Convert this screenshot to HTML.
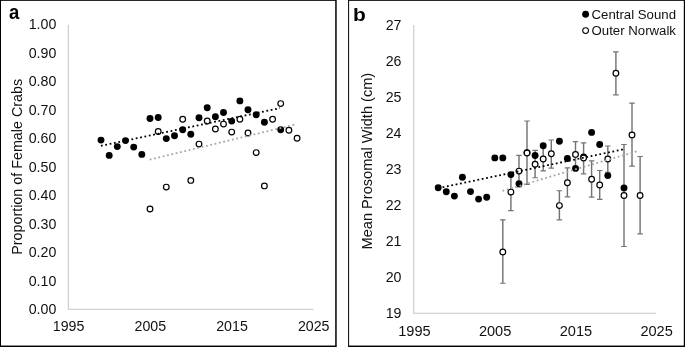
<!DOCTYPE html>
<html lang="en">
<head>
<meta charset="utf-8">
<title>Female crab proportion and prosomal width</title>
<style>
html,body{margin:0;padding:0;background:#fff;}
body{width:685px;height:347px;overflow:hidden;}
svg{display:block;}
text{font-family:"Liberation Sans", Arial, Helvetica, sans-serif;fill:#111;}
.tick-a{font-size:14.2px;}
.tick-b{font-size:14.2px;}
.ttl-a{font-size:14.33px;}
.ttl-b{font-size:14.58px;}
.lab{font-weight:bold;font-size:20.3px;fill:#000;}
.leg{font-size:13.23px;}
.f{fill:#000;}
.o{fill:#fff;stroke:#000;stroke-width:1.2;}
.e{stroke:#747474;stroke-width:1.45;fill:none;}
.c{stroke:#747474;stroke-width:1.15;fill:none;}
.ax{stroke:#c6c6c6;stroke-width:1.05;fill:none;}
.tb{stroke:#000;stroke-width:1.8;stroke-dasharray:1.8 2.65;fill:none;}
.tg{stroke:#a6a6a6;stroke-width:1.8;stroke-dasharray:1.8 2.65;fill:none;}
.frame{fill:#fff;stroke:#000;stroke-width:1.5;}
</style>
</head>
<body>
<svg width="685" height="347" viewBox="0 0 685 347">
<rect x="0" y="0" width="685" height="347" fill="#fff"/>
<rect x="0" y="0" width="336.7" height="347" fill="#000"/>
<rect x="1" y="0.85" width="334.2" height="344.7" fill="#fff"/>
<rect x="348.1" y="0" width="336.9" height="347" fill="#000"/>
<rect x="349.1" y="0.85" width="334.7" height="344.7" fill="#fff"/>
<g id="panel-a">
<path class="ax" d="M68.3 24.7V309.2H313.5"/>
<text class="tick-a" x="56.3" y="314.2" text-anchor="end">0.00</text>
<text class="tick-a" x="56.3" y="285.7" text-anchor="end">0.10</text>
<text class="tick-a" x="56.3" y="257.3" text-anchor="end">0.20</text>
<text class="tick-a" x="56.3" y="228.8" text-anchor="end">0.30</text>
<text class="tick-a" x="56.3" y="200.4" text-anchor="end">0.40</text>
<text class="tick-a" x="56.3" y="171.9" text-anchor="end">0.50</text>
<text class="tick-a" x="56.3" y="143.4" text-anchor="end">0.60</text>
<text class="tick-a" x="56.3" y="114.5" text-anchor="end">0.70</text>
<text class="tick-a" x="56.3" y="86.0" text-anchor="end">0.80</text>
<text class="tick-a" x="56.3" y="58.1" text-anchor="end">0.90</text>
<text class="tick-a" x="56.3" y="28.8" text-anchor="end">1.00</text>
<text class="tick-a" x="68.6" y="331.0" text-anchor="middle">1995</text>
<text class="tick-a" x="150.3" y="331.0" text-anchor="middle">2005</text>
<text class="tick-a" x="232.0" y="331.0" text-anchor="middle">2015</text>
<text class="tick-a" x="313.7" y="331.0" text-anchor="middle">2025</text>
<text class="ttl-a" transform="translate(22.3 166.8) rotate(-90)" text-anchor="middle">Proportion of Female Crabs</text>
<text class="lab" transform="translate(8.9 19) scale(0.93 1)" style="font-size:19.9px">a</text>
<circle class="f" cx="101.0" cy="140.1" r="3.45"/>
<circle class="f" cx="109.2" cy="155.4" r="3.45"/>
<circle class="f" cx="117.3" cy="146.6" r="3.45"/>
<circle class="f" cx="125.5" cy="140.6" r="3.45"/>
<circle class="f" cx="133.7" cy="147.1" r="3.45"/>
<circle class="f" cx="141.8" cy="154.4" r="3.45"/>
<circle class="f" cx="150.0" cy="118.5" r="3.45"/>
<circle class="f" cx="158.2" cy="117.5" r="3.45"/>
<circle class="f" cx="166.3" cy="138.6" r="3.45"/>
<circle class="f" cx="174.5" cy="135.8" r="3.45"/>
<circle class="f" cx="182.7" cy="129.8" r="3.45"/>
<circle class="f" cx="190.8" cy="134.3" r="3.45"/>
<circle class="f" cx="199.0" cy="117.7" r="3.45"/>
<circle class="f" cx="207.2" cy="107.8" r="3.45"/>
<circle class="f" cx="215.4" cy="116.7" r="3.45"/>
<circle class="f" cx="223.5" cy="112.5" r="3.45"/>
<circle class="f" cx="231.7" cy="121.1" r="3.45"/>
<circle class="f" cx="239.9" cy="100.9" r="3.45"/>
<circle class="f" cx="248.0" cy="109.7" r="3.45"/>
<circle class="f" cx="256.2" cy="114.7" r="3.45"/>
<circle class="f" cx="264.4" cy="122.3" r="3.45"/>
<circle class="f" cx="280.7" cy="129.8" r="3.45"/>
<circle class="o" cx="150.0" cy="209.0" r="2.85"/>
<circle class="o" cx="158.2" cy="131.5" r="2.85"/>
<circle class="o" cx="166.3" cy="187.1" r="2.85"/>
<circle class="o" cx="182.7" cy="119.3" r="2.85"/>
<circle class="o" cx="190.8" cy="180.4" r="2.85"/>
<circle class="o" cx="199.0" cy="144.1" r="2.85"/>
<circle class="o" cx="207.2" cy="121.0" r="2.85"/>
<circle class="o" cx="215.4" cy="129.0" r="2.85"/>
<circle class="o" cx="223.5" cy="124.1" r="2.85"/>
<circle class="o" cx="231.7" cy="132.1" r="2.85"/>
<circle class="o" cx="239.9" cy="119.2" r="2.85"/>
<circle class="o" cx="248.0" cy="133.0" r="2.85"/>
<circle class="o" cx="256.2" cy="152.6" r="2.85"/>
<circle class="o" cx="264.4" cy="185.9" r="2.85"/>
<circle class="o" cx="272.6" cy="119.2" r="2.85"/>
<circle class="o" cx="280.7" cy="103.6" r="2.85"/>
<circle class="o" cx="288.9" cy="130.3" r="2.85"/>
<circle class="o" cx="297.1" cy="138.3" r="2.85"/>
<line class="tg" x1="149.7" y1="159.6" x2="294.4" y2="124.7"/>
<line class="tb" x1="100.9" y1="145.8" x2="280.0" y2="108.1"/>
</g>
<g id="panel-b">
<path class="ax" d="M413.75 25.0V313.3H656.2"/>
<text class="tick-b" x="401.5" y="318.4" text-anchor="end">19</text>
<text class="tick-b" x="401.5" y="282.4" text-anchor="end">20</text>
<text class="tick-b" x="401.5" y="246.3" text-anchor="end">21</text>
<text class="tick-b" x="401.5" y="210.3" text-anchor="end">22</text>
<text class="tick-b" x="401.5" y="174.2" text-anchor="end">23</text>
<text class="tick-b" x="401.5" y="138.2" text-anchor="end">24</text>
<text class="tick-b" x="401.5" y="102.2" text-anchor="end">25</text>
<text class="tick-b" x="401.5" y="66.1" text-anchor="end">26</text>
<text class="tick-b" x="401.5" y="30.1" text-anchor="end">27</text>
<text class="ttl-b" x="414.4" y="335.6" text-anchor="middle">1995</text>
<text class="ttl-b" x="495.1" y="335.6" text-anchor="middle">2005</text>
<text class="ttl-b" x="575.9" y="335.6" text-anchor="middle">2015</text>
<text class="ttl-b" x="656.6" y="335.6" text-anchor="middle">2025</text>
<text class="ttl-b" transform="translate(371.9 161.1) rotate(-90)" text-anchor="middle">Mean Prosomal Width (cm)</text>
<text class="lab" transform="translate(353.1 20.8) scale(1.12 1)" style="font-size:18.7px">b</text>
<path class="e" d="M502.8 219.8V283.2"/><path class="c" d="M500.1 219.8H505.6M500.1 283.2H505.6"/>
<path class="e" d="M510.9 174.2V210.6"/><path class="c" d="M508.1 174.2H513.6M508.1 210.6H513.6"/>
<path class="e" d="M519.0 155.3V186.8"/><path class="c" d="M516.2 155.3H521.7M516.2 186.8H521.7"/>
<path class="e" d="M527.0 121.0V184.4"/><path class="c" d="M524.3 121.0H529.8M524.3 184.4H529.8"/>
<path class="e" d="M535.1 150.4V177.7"/><path class="c" d="M532.4 150.4H537.9M532.4 177.7H537.9"/>
<path class="e" d="M543.2 147.2V170.8"/><path class="c" d="M540.5 147.2H546.0M540.5 170.8H546.0"/>
<path class="e" d="M551.3 140.0V168.1"/><path class="c" d="M548.5 140.0H554.0M548.5 168.1H554.0"/>
<path class="e" d="M559.4 190.7V219.8"/><path class="c" d="M556.6 190.7H562.1M556.6 219.8H562.1"/>
<path class="e" d="M567.4 167.8V196.8"/><path class="c" d="M564.7 167.8H570.2M564.7 196.8H570.2"/>
<path class="e" d="M575.5 141.6V167.4"/><path class="c" d="M572.8 141.6H578.2M572.8 167.4H578.2"/>
<path class="e" d="M583.6 142.8V173.8"/><path class="c" d="M580.8 142.8H586.3M580.8 173.8H586.3"/>
<path class="e" d="M591.6 160.9V197.1"/><path class="c" d="M588.9 160.9H594.4M588.9 197.1H594.4"/>
<path class="e" d="M599.7 170.5V199.3"/><path class="c" d="M597.0 170.5H602.5M597.0 199.3H602.5"/>
<path class="e" d="M607.8 146.0V172.2"/><path class="c" d="M605.0 146.0H610.5M605.0 172.2H610.5"/>
<path class="e" d="M615.9 51.9V94.8"/><path class="c" d="M613.1 51.9H618.6M613.1 94.8H618.6"/>
<path class="e" d="M624.0 144.5V246.5"/><path class="c" d="M621.2 144.5H626.7M621.2 246.5H626.7"/>
<path class="e" d="M632.0 103.1V166.1"/><path class="c" d="M629.3 103.1H634.8M629.3 166.1H634.8"/>
<path class="e" d="M640.1 156.5V233.9"/><path class="c" d="M637.3 156.5H642.8M637.3 233.9H642.8"/>
<circle class="f" cx="438.2" cy="187.8" r="3.45"/>
<circle class="f" cx="446.3" cy="191.8" r="3.45"/>
<circle class="f" cx="454.4" cy="196.1" r="3.45"/>
<circle class="f" cx="462.4" cy="177.2" r="3.45"/>
<circle class="f" cx="470.5" cy="191.6" r="3.45"/>
<circle class="f" cx="478.6" cy="199.1" r="3.45"/>
<circle class="f" cx="486.7" cy="197.3" r="3.45"/>
<circle class="f" cx="494.8" cy="157.9" r="3.45"/>
<circle class="f" cx="502.8" cy="157.9" r="3.45"/>
<circle class="f" cx="510.9" cy="174.6" r="3.45"/>
<circle class="f" cx="519.0" cy="183.8" r="3.45"/>
<circle class="f" cx="527.0" cy="152.6" r="3.45"/>
<circle class="f" cx="535.1" cy="155.5" r="3.45"/>
<circle class="f" cx="543.2" cy="145.7" r="3.45"/>
<circle class="f" cx="559.4" cy="141.3" r="3.45"/>
<circle class="f" cx="567.4" cy="158.5" r="3.45"/>
<circle class="f" cx="575.5" cy="168.4" r="3.45"/>
<circle class="f" cx="583.6" cy="157.0" r="3.45"/>
<circle class="f" cx="591.6" cy="132.4" r="3.45"/>
<circle class="f" cx="599.7" cy="144.5" r="3.45"/>
<circle class="f" cx="607.8" cy="175.6" r="3.45"/>
<circle class="f" cx="624.0" cy="187.9" r="3.45"/>
<circle class="o" cx="502.8" cy="252.0" r="2.85"/>
<circle class="o" cx="510.9" cy="192.1" r="2.85"/>
<circle class="o" cx="519.0" cy="171.1" r="2.85"/>
<circle class="o" cx="527.0" cy="153.0" r="2.85"/>
<circle class="o" cx="535.1" cy="164.3" r="2.85"/>
<circle class="o" cx="543.2" cy="159.0" r="2.85"/>
<circle class="o" cx="551.3" cy="153.8" r="2.85"/>
<circle class="o" cx="559.4" cy="205.6" r="2.85"/>
<circle class="o" cx="567.4" cy="182.7" r="2.85"/>
<circle class="o" cx="575.5" cy="154.4" r="2.85"/>
<circle class="o" cx="583.6" cy="158.1" r="2.85"/>
<circle class="o" cx="591.6" cy="179.3" r="2.85"/>
<circle class="o" cx="599.7" cy="185.0" r="2.85"/>
<circle class="o" cx="607.8" cy="159.0" r="2.85"/>
<circle class="o" cx="615.9" cy="73.2" r="2.85"/>
<circle class="o" cx="624.0" cy="195.5" r="2.85"/>
<circle class="o" cx="632.0" cy="134.9" r="2.85"/>
<circle class="o" cx="640.1" cy="195.5" r="2.85"/>
<line class="tg" x1="502.5" y1="190.8" x2="636.6" y2="151.3"/>
<line class="tb" x1="438.2" y1="188.2" x2="624.6" y2="149.1"/>
<circle class="f" cx="585.6" cy="14.3" r="3.45"/>
<circle class="o" cx="585.6" cy="30.6" r="2.9" style="stroke-width:1.05"/>
<text class="leg" x="591.5" y="18.6">Central Sound</text>
<text class="leg" x="591.5" y="35.1">Outer Norwalk</text>
</g>
</svg>
</body>
</html>
